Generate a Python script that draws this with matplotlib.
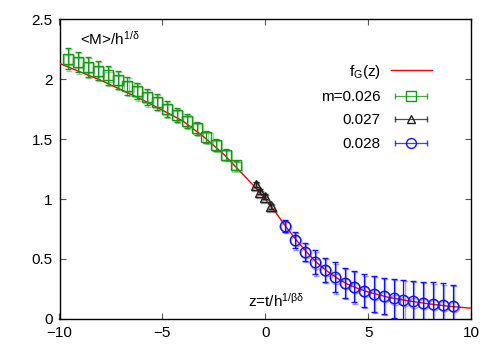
import matplotlib
matplotlib.use('Agg')
import matplotlib.pyplot as plt
import matplotlib.transforms as mtrans
from matplotlib.lines import Line2D
from matplotlib.legend_handler import HandlerLine2D, HandlerTuple

plt.rcParams['font.family'] = ['Liberation Sans', 'DejaVu Sans']
plt.rcParams['mathtext.fontset'] = 'custom'
plt.rcParams['mathtext.rm'] = 'Liberation Sans'
plt.rcParams['mathtext.it'] = 'Liberation Sans'

# ── data ─────────────────────────────────────────────────────────
fit_z = [-10, -9, -8, -7, -6, -5, -4, -3, -2, -1.5, -1, -0.5, 0, 0.5, 1, 1.5,
         2, 2.5, 3, 3.5, 4, 4.5, 5, 6, 7, 8, 9, 10]
fit_m = [2.13, 2.06, 1.99, 1.91, 1.83, 1.74, 1.65, 1.52, 1.37, 1.28, 1.19, 1.10,
         1.00, 0.89, 0.77, 0.66, 0.56, 0.47, 0.40, 0.34, 0.29, 0.255, 0.225,
         0.18, 0.15, 0.125, 0.105, 0.09]

z_026 = [-9.58, -9.10, -8.62, -8.14, -7.66, -7.18, -6.70, -6.22, -5.74, -5.26,
         -4.78, -4.30, -3.82, -3.34, -2.86, -2.38, -1.90, -1.42]
m_026 = [2.17, 2.14, 2.10, 2.07, 2.03, 1.99, 1.94, 1.90, 1.85, 1.81,
         1.75, 1.70, 1.65, 1.59, 1.52, 1.45, 1.37, 1.28]
e_026 = [0.09, 0.085, 0.085, 0.08, 0.08, 0.075, 0.075, 0.07, 0.07, 0.065,
         0.065, 0.06, 0.06, 0.055, 0.05, 0.05, 0.045, 0.04]

z_027 = [-0.46, -0.25, -0.02, 0.27]
m_027 = [1.12, 1.06, 1.02, 0.94]
e_027 = [0.02, 0.02, 0.02, 0.02]

z_028 = [0.96, 1.45, 1.92, 2.41, 2.90, 3.37, 3.86, 4.32, 4.80, 5.28,
         5.77, 6.24, 6.71, 7.17, 7.66, 8.15, 8.62, 9.11]
m_028 = [0.775, 0.658, 0.561, 0.472, 0.408, 0.347, 0.303, 0.269, 0.236, 0.208,
         0.192, 0.172, 0.158, 0.147, 0.131, 0.125, 0.117, 0.106]
e_028 = [0.05, 0.07, 0.075, 0.10, 0.10, 0.125, 0.125, 0.13, 0.135, 0.15,
         0.15, 0.16, 0.165, 0.17, 0.175, 0.18, 0.18, 0.18]

GREEN = '#1a961a'
BLACK = '#202020'
BLUE = '#1010ff'
RED = '#ff0000'

fig = plt.figure(figsize=(5, 3.5), dpi=100)
ax = fig.add_axes([0.119, 0.0886, 0.823, 0.857])

fit_line, = ax.plot(fit_z, fit_m, color=RED, lw=1.0, zorder=3)

series = [
    (z_026, m_026, e_026, GREEN, 's', 7.5, 'm=0.026'),
    (z_027, m_027, e_027, BLACK, '^', 6.5, '0.027'),
    (z_028, m_028, e_028, BLUE, 'o', 7.5, '0.028'),
]
# light, slightly shifted copy underneath (gnuplot antialias look)
shadow = mtrans.offset_copy(ax.transData, fig=fig, x=1.2, y=-1.2, units='dots')
handles = [fit_line]
labels = [r'f$_\mathrm{G}$(z)']
hmap = {}
for z, m, e, col, mk, ms, lab in series:
    ax.errorbar(z, m, yerr=e, fmt=mk, ms=ms, mfc='none', mec=col, mew=1.0,
                color=col, ecolor=col, elinewidth=1.0, capsize=2, capthick=1.0,
                alpha=0.4, transform=shadow, zorder=3.5)
    ax.errorbar(z, m, yerr=e, fmt=mk, ms=ms, mfc='none', mec=col, mew=1.0,
                color=col, ecolor=col, elinewidth=0.9, capsize=2, capthick=1.0,
                zorder=4)
    bar = Line2D([], [], color=col, lw=0.9, marker='|', ms=5, mew=1.0, alpha=0.8)
    mark = Line2D([], [], ls='none', marker=mk, ms=ms * 0.95, mfc='none',
                  mec=col, mew=1.0)
    hmap[bar] = HandlerLine2D(numpoints=2)
    hmap[mark] = HandlerLine2D(numpoints=1)
    handles.append((bar, mark))
    labels.append(lab)
hmap[tuple] = HandlerTuple(ndivide=1)

ax.set_xlim(-10, 10)
ax.set_ylim(0, 2.5)
ax.set_xticks([-10, -5, 0, 5, 10])
ax.set_yticks([0, 0.5, 1, 1.5, 2, 2.5])
ax.set_yticklabels(['0', '0.5', '1', '1.5', '2', '2.5'])
ax.tick_params(direction='in', top=True, right=True, length=4, width=0.8,
               labelsize=11, pad=5, color='#555555')
for s in ax.spines.values():
    s.set_linewidth(1.0)

ax.text(-9.0, 2.26, r'<M>/h$^{1/\delta}$', fontsize=11, va='bottom', ha='left')
ax.text(-0.85, 0.08, r'z=t/h$^{1/\beta\delta}$', fontsize=11, va='bottom', ha='left')

leg = ax.legend(handles, labels, handler_map=hmap,
                loc='upper right', bbox_to_anchor=(0.905, 0.855), frameon=False,
                markerfirst=False, fontsize=11, handlelength=2.7,
                handletextpad=0.65, labelspacing=0.62, borderpad=0,
                borderaxespad=0)
for t in leg.get_texts():
    t.set_ha('right')

fig.savefig('out.png', dpi=100)
